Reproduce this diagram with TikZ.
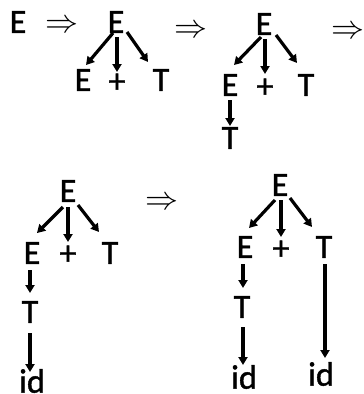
\documentclass[tikz,border=0pt]{standalone}
\usepackage{fontspec}
\usepackage{graphicx}
\setmainfont[FakeBold=1.2]{Carlito}
\usetikzlibrary{arrows.meta}
\begin{document}
\begin{tikzpicture}[x=1pt,y=-1pt,
  sym/.style={inner sep=0pt,font=\fontsize{34}{34}\selectfont},
  der/.style={inner sep=0pt},
  arr/.style={line width=3.2pt,-{Triangle[length=8pt,width=9pt]}}]
\useasboundingbox (0,0) rectangle (364,394);
\newcommand{\derarrow}{\resizebox{33pt}{!}{$\Rightarrow$}}
% start symbol
\node[sym] (s0) at (18,22) {E};
\node[der] (d1) at (62,26) {\derarrow};
% tree 1
\node[sym] (a) at (116,22) {E};
\node[sym] (aE) at (83,80) {E};
\node[sym] (aP) at (117,83) {+};
\node[sym] (aT) at (161,80) {T};
\draw[arr] ([shift={(-3,11)}]a.center) -- ([shift={(3,-15)}]aE.center);
\draw[arr] ([shift={(1,15)}]a.center) -- ([shift={(0,-11)}]aP.center);
\draw[arr] ([shift={(11,10)}]a.center) -- ([shift={(-13,-18)}]aT.center);
\node[der] (d2) at (191,31) {\derarrow};
% tree 2
\node[sym] (b) at (264,24) {E};
\node[sym] (bE) at (230,85) {E};
\node[sym] (bP) at (265,88) {+};
\node[sym] (bT) at (306,85) {T};
\node[sym] (bT2) at (230,138) {T};
\draw[arr] ([shift={(-3,13)}]b.center) -- ([shift={(4,-20)}]bE.center);
\draw[arr] ([shift={(1,15)}]b.center) -- ([shift={(0,-14)}]bP.center);
\draw[arr] ([shift={(12,11)}]b.center) -- ([shift={(-9,-22)}]bT.center);
\draw[arr] ([shift={(0,15)}]bE.center) -- ([shift={(0,-12)}]bT2.center);
\node[der] (d3) at (348,32) {\derarrow};
% tree 3
\node[sym] (c) at (68,191) {E};
\node[sym] (cE) at (32,253) {E};
\node[sym] (cP) at (68,255) {+};
\node[sym] (cT) at (110,253) {T};
\node[sym] (cT2) at (30,312) {T};
\node[sym] (cid) at (32,381) {id};
\draw[arr] ([shift={(-5,16)}]c.center) -- ([shift={(5,-20)}]cE.center);
\draw[arr] ([shift={(0,16)}]c.center) -- ([shift={(0,-13)}]cP.center);
\draw[arr] ([shift={(10,14)}]c.center) -- ([shift={(-11,-21)}]cT.center);
\draw[arr] ([shift={(-2,17)}]cE.center) -- ([shift={(0,-19)}]cT2.center);
\draw[arr] ([shift={(0,21)}]cT2.center) -- ([shift={(-2,-9)}]cid.center);
\node[der] (d4) at (162,203) {\derarrow};
% tree 4
\node[sym] (e) at (280,185) {E};
\node[sym] (eE) at (245,247) {E};
\node[sym] (eP) at (281,250) {+};
\node[sym] (eT) at (324,247) {T};
\node[sym] (eT2) at (242,307) {T};
\node[sym] (eid) at (244,377) {id};
\node[sym] (eid2) at (321,374) {id};
\draw[arr] ([shift={(-5,15)}]e.center) -- ([shift={(4,-19)}]eE.center);
\draw[arr] ([shift={(1,15)}]e.center) -- ([shift={(0,-13)}]eP.center);
\draw[arr] ([shift={(10,13)}]e.center) -- ([shift={(-12,-20)}]eT.center);
\draw[arr] ([shift={(-2,17)}]eE.center) -- ([shift={(1,-19)}]eT2.center);
\draw[arr] ([shift={(1,20)}]eT2.center) -- ([shift={(-1,-12)}]eid.center);
\draw[arr] ([shift={(1,17)}]eT.center) -- ([shift={(4,-16)}]eid2.center);
\end{tikzpicture}
\end{document}
